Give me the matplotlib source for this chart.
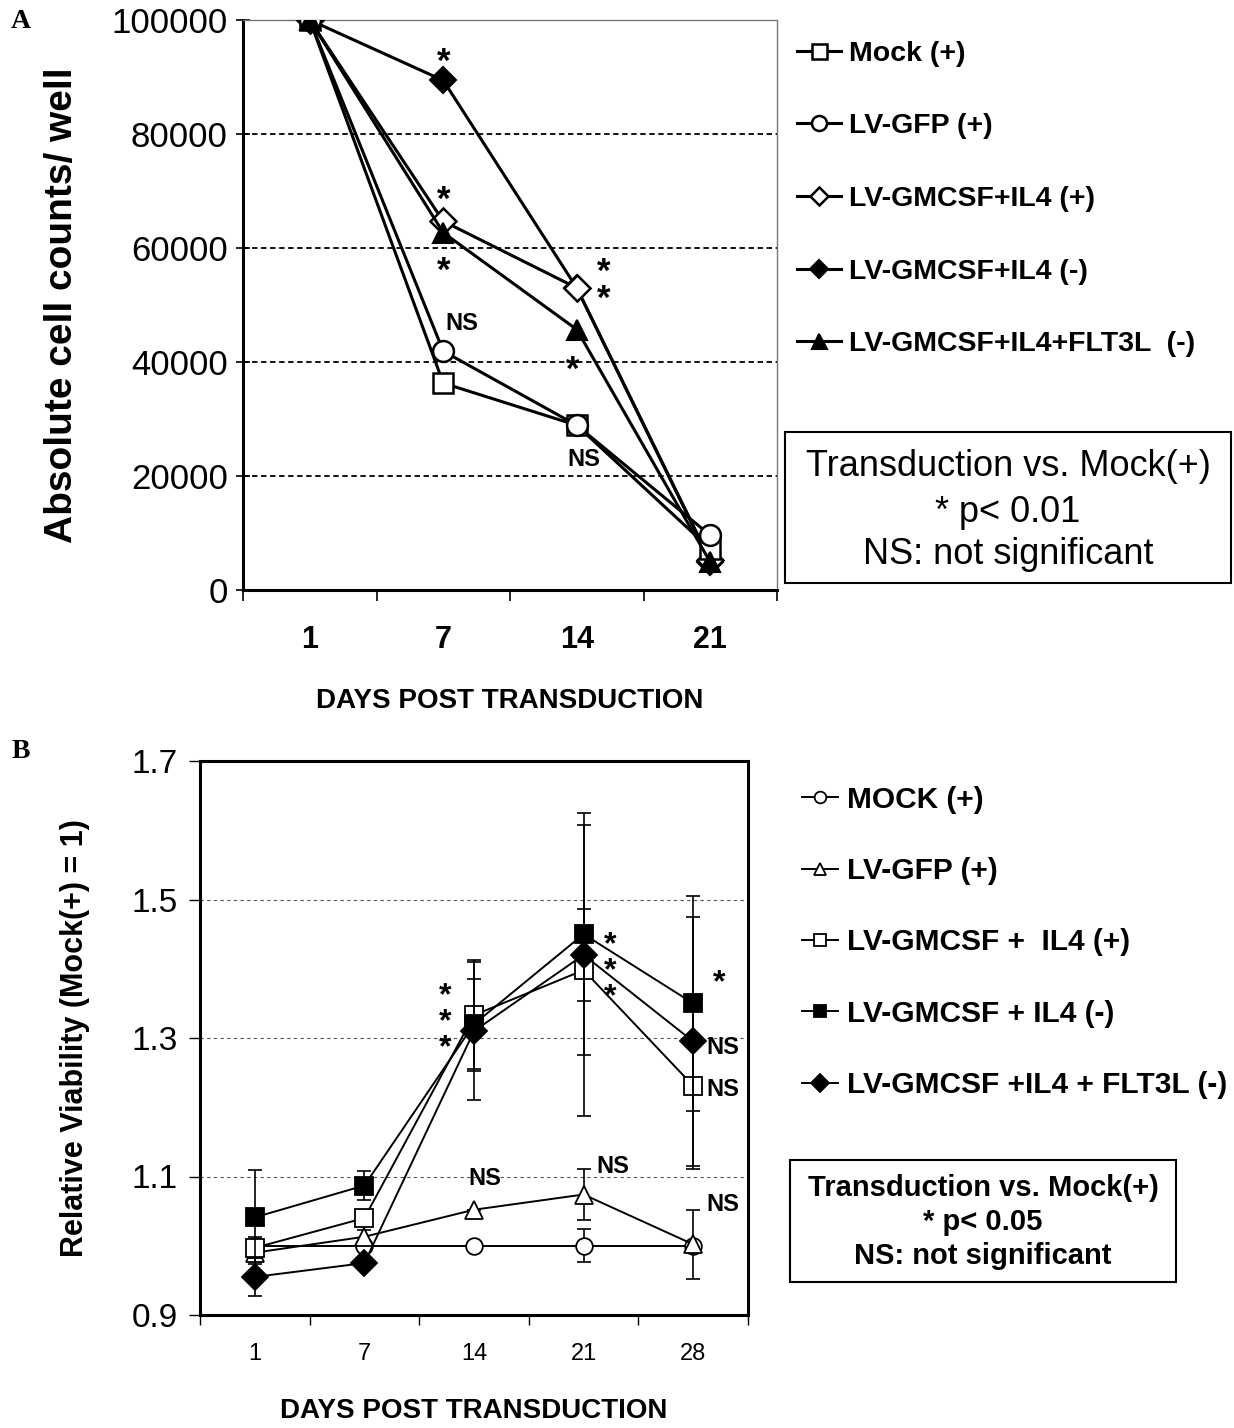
import matplotlib
matplotlib.use("Agg")
import matplotlib.pyplot as plt
from matplotlib.patches import Rectangle
from matplotlib.transforms import offset_copy
import numpy as np

plt.rcParams['font.family'] = ['Liberation Sans', 'DejaVu Sans']

# ---------------- Panel A data ----------------
days_A = ['1', '7', '14', '21']
mock_A = [100000, 36300, 28900, 7200]
gfp_A = [100000, 41900, 28900, 9600]
gm_il4_pos_A = [100000, 64700, 53000, 5200]
gm_il4_neg_A = [100000, 89400, 53000, 5000]
gm_il4_flt_neg_A = [100000, 62700, 45700, 4900]
labels_A = ['Mock (+)', 'LV-GFP (+)', 'LV-GMCSF+IL4 (+)', 'LV-GMCSF+IL4 (-)',
            'LV-GMCSF+IL4+FLT3L  (-)']
yticks_A = [0, 20000, 40000, 60000, 80000, 100000]
ann_A_text = ['*', '*', '*', 'NS', '*\n*', '*', 'NS']
ann_A_x = [1.0, 1.0, 1.0, 1.14, 2.2, 1.97, 2.05]
ann_A_y = [93900, 69800, 57300, 46800, 54800, 39900, 22900]

# ---------------- Panel B data ----------------
days_B = ['1', '7', '14', '21', '28']
mock_B = [1.0, 1.0, 1.0, 1.0, 1.0]
mock_B_err = [0.0, 0.0, 0.0, 0.024, 0.0]
gfp_B = [0.99, 1.013, 1.052, 1.074, 1.002]
gfp_B_err = [0.01, 0.01, 0.0, 0.037, 0.05]
gm_pos_B = [0.997, 1.04, 1.333, 1.398, 1.231]
gm_pos_B_err = [0.015, 0.01, 0.08, 0.21, 0.12]
gm_neg_B = [1.041, 1.087, 1.32, 1.45, 1.35]
gm_neg_B_err = [0.068, 0.021, 0.065, 0.175, 0.155]
flt_neg_B = [0.955, 0.975, 1.31, 1.42, 1.295]
flt_neg_B_err = [0.028, 0.0, 0.1, 0.066, 0.18]
labels_B = ['MOCK (+)', 'LV-GFP (+)', 'LV-GMCSF +  IL4 (+)', 'LV-GMCSF + IL4 (-)',
            'LV-GMCSF +IL4 + FLT3L (-)']
yticks_B = [0.9, 1.1, 1.3, 1.5, 1.7]
ann_B_text = ['*\n*\n*', '*\n*\n*', '*', 'NS', 'NS', 'NS', 'NS', 'NS']
ann_B_x = [1.74, 3.24, 4.24, 4.27, 4.27, 2.1, 3.27, 4.27]
ann_B_y = [1.333, 1.407, 1.389, 1.287, 1.226, 1.097, 1.115, 1.06]

W, H = 1234, 1428
fig = plt.figure(figsize=(W / 100, H / 100), dpi=100)
fig.patch.set_facecolor('white')


def fx(px):
    return px / W


def fy(py):
    return 1 - py / H


# ================= Panel A =================
axA = fig.add_axes([fx(243), fy(590), fx(777 - 243), (590 - 20) / H])
xA = np.arange(len(days_A)) + 0.5
lw = 2.2
l4, = axA.plot(xA, gm_il4_neg_A, color='black', lw=lw, marker='D', ms=13, mfc='black',
               mec='black', mew=1.5, zorder=3)
l3, = axA.plot(xA, gm_il4_pos_A, color='black', lw=lw, marker='D', ms=13, mfc='white',
               mec='black', mew=1.8, zorder=4)
l1, = axA.plot(xA, mock_A, color='black', lw=lw, marker='s', ms=15, mfc='white',
               mec='black', mew=1.8, zorder=5)
l2, = axA.plot(xA, gfp_A, color='black', lw=lw, marker='o', ms=15, mfc='white',
               mec='black', mew=1.8, zorder=6)
l5, = axA.plot(xA, gm_il4_flt_neg_A, color='black', lw=lw, marker='^', ms=15, mfc='black',
               mec='black', mew=1.5, zorder=7)

axA.set_xlim(0, len(days_A))
axA.set_ylim(0, 100000)
axA.set_yticks(yticks_A)
axA.set_yticklabels([str(v) for v in yticks_A], fontsize=25)
axA.set_xticks(np.arange(len(days_A) + 1))
axA.set_xticklabels([''] * (len(days_A) + 1))
axA.set_xticks(xA, minor=True)
axA.set_xticklabels(days_A, minor=True, fontsize=22, fontweight='bold')
axA.tick_params(axis='x', which='minor', length=0, pad=25)
axA.tick_params(axis='x', which='major', direction='out', length=8, width=1.2)
axA.tick_params(axis='y', direction='inout', length=10, width=1.2, pad=6)
for v in yticks_A[1:]:
    axA.axhline(v, color='black', lw=1.3, ls=(0, (3, 2)), zorder=1)
axA.spines['left'].set_linewidth(2.2)
axA.spines['bottom'].set_linewidth(2.2)
for s in ['top', 'right']:
    axA.spines[s].set_linewidth(1.0)
    axA.spines[s].set_color('#777777')
    axA.spines[s].set_linestyle((0, (2, 1)))
axA.set_ylabel('Absolute cell counts/ well', fontsize=28, fontweight='bold', labelpad=23)
axA.set_xlabel('DAYS POST TRANSDUCTION', fontsize=20, fontweight='bold', labelpad=24)

star_tr_A = offset_copy(axA.transData, fig=fig, x=0, y=-8, units='dots')
for t, xv, yv in zip(ann_A_text, ann_A_x, ann_A_y):
    if t.startswith('*'):
        axA.text(xv + 0.5, yv, t, ha='center', va='center', fontsize=25,
                 fontweight='bold', linespacing=0.78, zorder=8, transform=star_tr_A)
    else:
        axA.text(xv + 0.5, yv, t, ha='center', va='center', fontsize=17,
                 fontweight='bold', zorder=8)

fig.legend(handles=[l1, l2, l3, l4, l5], labels=labels_A, loc='upper left',
           bbox_to_anchor=(fx(771), fy(15)), frameon=False,
           labelspacing=1.64, handlelength=1.55, handletextpad=0.3, markerscale=0.72,
           prop={'weight': 'bold', 'size': 20.5})

fig.add_artist(Rectangle((fx(785), fy(583)), fx(1231 - 785), (583 - 432) / H,
                         transform=fig.transFigure, fill=False, ec='black', lw=1.5))
for txt, yy in zip(['Transduction vs. Mock(+)', '* p< 0.01', 'NS: not significant'],
                   [467, 512, 555]):
    fig.text(fx(1008), fy(yy), txt, ha='center', va='center', fontsize=26)

fig.text(fx(21), fy(22), 'A', fontsize=20, fontweight='bold', family='Liberation Serif',
         ha='center', va='center')

# ================= Panel B =================
axB = fig.add_axes([fx(200), fy(1315), fx(748 - 200), (1315 - 761) / H])
xB = np.arange(len(days_B)) + 0.5
lwB = 1.4
series_B = [
    (mock_B, mock_B_err, 'o', 'white', 12),
    (gfp_B, gfp_B_err, '^', 'white', 13),
    (gm_pos_B, gm_pos_B_err, 's', 'white', 13),
    (gm_neg_B, gm_neg_B_err, 's', 'black', 13),
    (flt_neg_B, flt_neg_B_err, 'D', 'black', 13),
]
hB = []
for i, (vals, err, mk, fc, ms) in enumerate(series_B):
    axB.errorbar(xB, vals, yerr=err, fmt='none', ecolor='black', elinewidth=1.2,
                 capsize=5, capthick=1.2, zorder=2 + i)
    ln, = axB.plot(xB, vals, color='black', lw=lwB, marker=mk, ms=ms, mfc=fc,
                   mec='black', mew=1.3, zorder=3 + i)
    hB.append(ln)

axB.set_xlim(0, len(days_B))
axB.set_ylim(0.9, 1.7)
axB.set_yticks(yticks_B)
axB.set_yticklabels([f'{v:.1f}' for v in yticks_B], fontsize=24)
axB.set_xticks(np.arange(len(days_B) + 1))
axB.set_xticklabels([''] * (len(days_B) + 1))
axB.set_xticks(xB, minor=True)
axB.set_xticklabels(days_B, minor=True, fontsize=17)
axB.tick_params(axis='x', which='minor', length=0, pad=20)
axB.tick_params(axis='x', which='major', direction='out', length=7, width=1.0)
axB.tick_params(axis='y', direction='out', length=8, width=1.0, pad=8)
for v in yticks_B[1:-1]:
    axB.axhline(v, color='#555555', lw=0.8, ls=(0, (3, 3)), zorder=1)
for s in axB.spines.values():
    s.set_linewidth(2.2)
axB.set_ylabel('Relative Viability (Mock(+) = 1)', fontsize=22, fontweight='bold', labelpad=30)
axB.set_xlabel('DAYS POST TRANSDUCTION', fontsize=20, fontweight='bold', labelpad=24)

star_tr_B = offset_copy(axB.transData, fig=fig, x=0, y=-7, units='dots')
for t, xv, yv in zip(ann_B_text, ann_B_x, ann_B_y):
    if t.startswith('*'):
        axB.text(xv + 0.5, yv, t, ha='center', va='center', fontsize=23,
                 fontweight='bold', linespacing=0.82, zorder=10, transform=star_tr_B)
    else:
        axB.text(xv + 0.5, yv, t, ha='center', va='center', fontsize=17,
                 fontweight='bold', zorder=10)

fig.legend(handles=hB, labels=labels_B, loc='upper left',
           bbox_to_anchor=(fx(775), fy(759)), frameon=False,
           labelspacing=1.45, handlelength=1.2, handletextpad=0.3, markerscale=0.7,
           prop={'weight': 'bold', 'size': 21.5})

fig.add_artist(Rectangle((fx(790), fy(1282)), fx(1176 - 790), (1282 - 1160) / H,
                         transform=fig.transFigure, fill=False, ec='black', lw=1.5))
for txt, yy in zip(['Transduction vs. Mock(+)', '* p< 0.05', 'NS: not significant'],
                   [1188, 1222, 1256]):
    fig.text(fx(983), fy(yy), txt, ha='center', va='center', fontsize=21, fontweight='bold')

fig.text(fx(21), fy(752), 'B', fontsize=20, fontweight='bold', family='Liberation Serif',
         ha='center', va='center')

fig.savefig('out.png', dpi=100, facecolor='white')
